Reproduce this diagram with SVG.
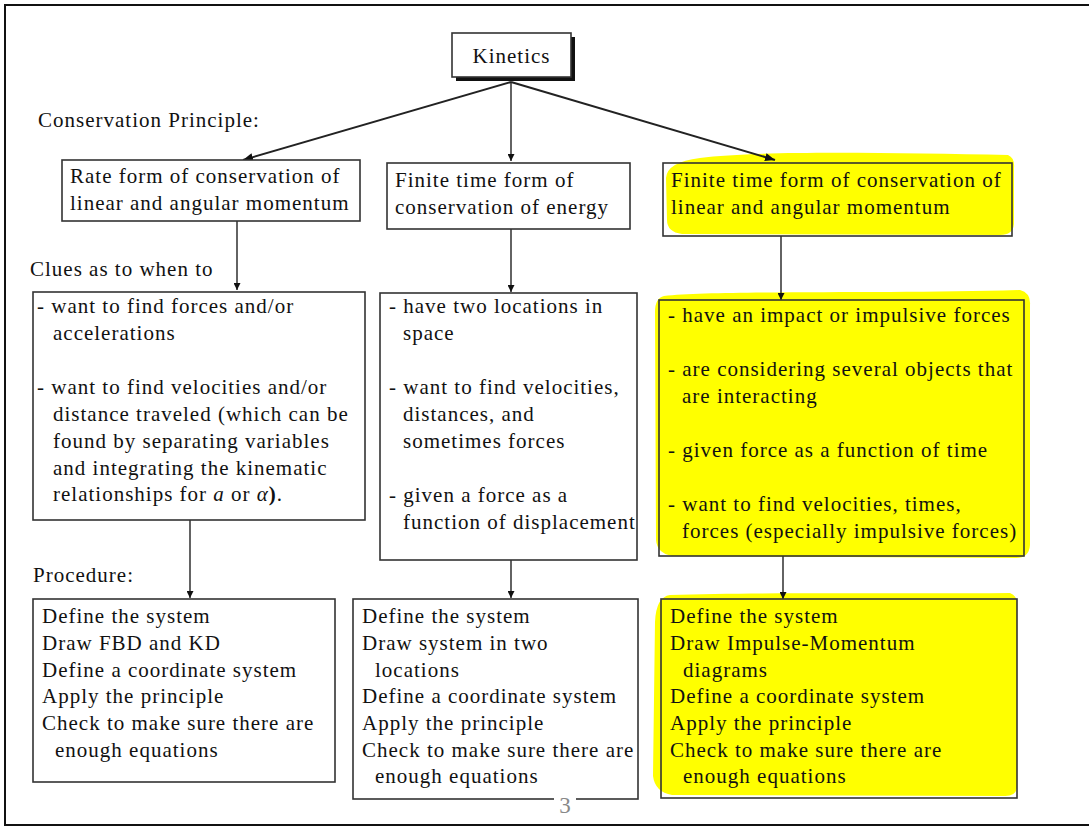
<svg xmlns="http://www.w3.org/2000/svg" width="1089" height="827" viewBox="0 0 1089 827">
  <style>
    text { font-size: 21px; letter-spacing: 1px; fill: #111; }
    .box { fill: #fff; stroke: #333; stroke-width: 1.6; }
    .boxy { fill: none; stroke: #333; stroke-width: 1.6; }
    .hl { fill: #ffff00; stroke: none; }
    .conn { stroke: #222; stroke-width: 1.4; fill: none; }
    .diag { stroke: #222; stroke-width: 2; fill: none; }
  </style>
  <defs>
    <marker id="arr" viewBox="0 0 10 10" refX="10" refY="5" markerWidth="7" markerHeight="7" markerUnits="userSpaceOnUse" orient="auto">
      <path d="M0,0 L10,5 L0,10 Z" fill="#111"/>
    </marker>
    <marker id="arr2" viewBox="0 0 10 10" refX="10" refY="5" markerWidth="10" markerHeight="10" markerUnits="userSpaceOnUse" orient="auto">
      <path d="M0,1 L10,5 L0,9 Z" fill="#111"/>
    </marker>
  </defs>
  <rect x="0" y="0" width="1089" height="827" fill="#fff"/>
  <path d="M1095,5 L5,5 L5,825 L1095,825" fill="none" stroke="#111" stroke-width="2"/>

  <g font-family="'Liberation Serif', 'Times New Roman', Tinos, serif">
  <g id="labels">
    <text x="38" y="127">Conservation Principle:</text>
    <text x="30" y="276">Clues as to when to</text>
    <text x="33" y="582">Procedure:</text>
  </g>

  <g id="highlights">
    <path class="hl" d="M700,158 C760,150 900,153 1008,155 Q1015,158 1014,168 L1014,224 Q1013,235 1000,235 L682,234 Q667,232 667,220 L666,178 Q667,162 700,158 Z"/>
    <path class="hl" d="M664,296 C720,290 900,294 1020,290 Q1031,293 1030,305 L1030,545 Q1029,559 1014,558 L672,556 Q657,553 656,540 L655,312 Q655,298 664,296 Z"/>
    <path class="hl" d="M670,595 C760,592 900,594 1010,593 Q1018,596 1017,606 L1017,788 Q1015,797 1003,796 L672,795 Q655,792 653,776 L655,622 Q656,597 670,595 Z"/>
  </g>

  <g id="connectors">
    <line class="diag" x1="511" y1="82" x2="243" y2="160" marker-end="url(#arr2)"/>
    <line class="conn" x1="511" y1="82" x2="511" y2="161" marker-end="url(#arr)"/>
    <line class="diag" x1="511" y1="82" x2="775" y2="160" marker-end="url(#arr2)"/>
    <line class="conn" x1="237" y1="221" x2="237" y2="290" marker-end="url(#arr)"/>
    <line class="conn" x1="511" y1="229" x2="511" y2="292" marker-end="url(#arr)"/>
    <line class="conn" x1="781" y1="236" x2="781" y2="300" marker-end="url(#arr)"/>
    <line class="conn" x1="190" y1="520" x2="190" y2="598" marker-end="url(#arr)"/>
    <line class="conn" x1="511" y1="560" x2="511" y2="598" marker-end="url(#arr)"/>
    <line class="conn" x1="783" y1="556" x2="783" y2="599" marker-end="url(#arr)"/>
  </g>

  <g id="kinetics">
    <rect x="456" y="37" width="119" height="44" fill="#111"/>
    <rect class="box" x="452" y="33" width="119" height="44"/>
    <text x="511.5" y="63" text-anchor="middle">Kinetics</text>
  </g>

  <g id="rate-form">
    <rect class="box" x="62" y="160" width="298" height="61"/>
    <text x="70" y="183">Rate form of conservation of</text>
    <text x="70" y="210">linear and angular momentum</text>
  </g>
  <g id="energy-form">
    <rect class="box" x="387" y="163" width="243" height="66"/>
    <text x="395" y="187">Finite time form of</text>
    <text x="395" y="214">conservation of energy</text>
  </g>
  <g id="impulse-form">
    <rect class="boxy" x="663" y="163" width="349" height="73"/>
    <text x="671" y="187">Finite time form of conservation of</text>
    <text x="671" y="214">linear and angular momentum</text>
  </g>

  <g id="rate-clues">
    <rect class="box" x="33" y="292" width="332" height="228"/>
    <text x="37" y="313">- want to find forces and/or</text>
    <text x="53" y="340">accelerations</text>
    <text x="37" y="394">- want to find velocities and/or</text>
    <text x="53" y="421">distance traveled (which can be</text>
    <text x="53" y="448">found by separating variables</text>
    <text x="53" y="475">and integrating the kinematic</text>
    <text x="53" y="501">relationships for <tspan font-style="italic">a</tspan> or <tspan font-style="italic">α</tspan><tspan font-weight="bold">)</tspan>.</text>
  </g>
  <g id="energy-clues">
    <rect class="box" x="380" y="293" width="257" height="267"/>
    <text x="389" y="313">- have two locations in</text>
    <text x="403" y="340">space</text>
    <text x="389" y="394">- want to find velocities,</text>
    <text x="403" y="421">distances, and</text>
    <text x="403" y="448">sometimes forces</text>
    <text x="389" y="502">- given a force as a</text>
    <text x="403" y="529">function of displacement</text>
  </g>
  <g id="impulse-clues">
    <rect class="boxy" x="659" y="300" width="365" height="256"/>
    <text x="668" y="322">- have an impact or impulsive forces</text>
    <text x="668" y="376">- are considering several objects that</text>
    <text x="682" y="403">are interacting</text>
    <text x="668" y="457">- given force as a function of time</text>
    <text x="668" y="511">- want to find velocities, times,</text>
    <text x="682" y="538">forces (especially impulsive forces)</text>
  </g>

  <g id="rate-procedure">
    <rect class="box" x="33" y="599" width="302" height="183"/>
    <text x="42" y="623">Define the system</text>
    <text x="42" y="650">Draw FBD and KD</text>
    <text x="42" y="677">Define a coordinate system</text>
    <text x="42" y="703">Apply the principle</text>
    <text x="42" y="730">Check to make sure there are</text>
    <text x="55" y="757">enough equations</text>
  </g>
  <g id="energy-procedure">
    <rect class="box" x="353" y="599" width="285" height="200"/>
    <text x="362" y="623">Define the system</text>
    <text x="362" y="650">Draw system in two</text>
    <text x="375" y="677">locations</text>
    <text x="362" y="703">Define a coordinate system</text>
    <text x="362" y="730">Apply the principle</text>
    <text x="362" y="757">Check to make sure there are</text>
    <text x="375" y="783">enough equations</text>
  </g>
  <g id="impulse-procedure">
    <rect class="boxy" x="661" y="599" width="356" height="199"/>
    <text x="670" y="623">Define the system</text>
    <text x="670" y="650">Draw Impulse-Momentum</text>
    <text x="683" y="677">diagrams</text>
    <text x="670" y="703">Define a coordinate system</text>
    <text x="670" y="730">Apply the principle</text>
    <text x="670" y="757">Check to make sure there are</text>
    <text x="683" y="783">enough equations</text>
  </g>

  <g id="page-number">
    <rect x="554" y="795" width="22" height="8" fill="#fff"/>
    <text x="565" y="813" text-anchor="middle" style="font-size:23px;fill:#888;letter-spacing:0">3</text>
  </g>
  </g>
</svg>
